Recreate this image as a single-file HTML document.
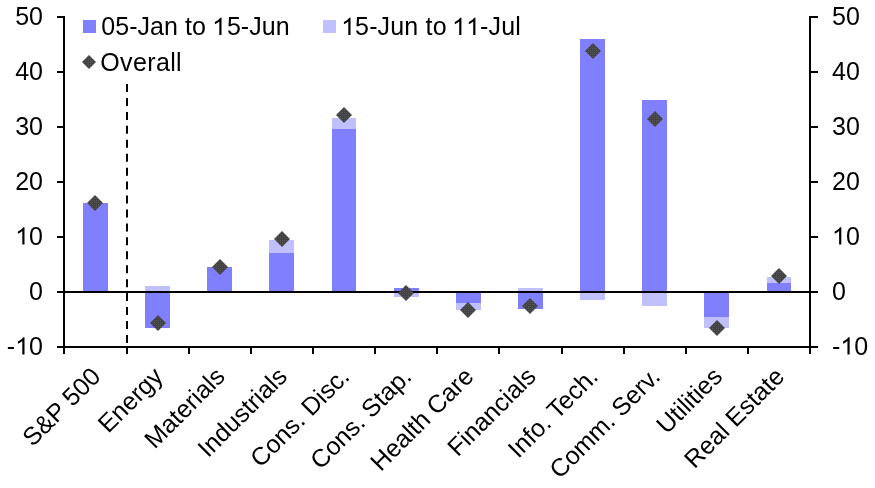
<!DOCTYPE html>
<html><head><meta charset="utf-8"><style>
html,body{margin:0;padding:0;background:#fff;width:875px;height:488px;overflow:hidden}
svg{display:block;will-change:transform}
text .one{fill:none}
text{font-family:"Liberation Sans",sans-serif;font-size:25px;fill:#000}
</style></head><body>
<svg width="875" height="488" viewBox="0 0 875 488">
<defs><pattern id="dp" width="2" height="2" patternUnits="userSpaceOnUse"><rect width="2" height="2" fill="#424242"/><rect width="1" height="1" fill="#575757"/></pattern></defs>
<rect x="83" y="203" width="25" height="89" fill="#8080FF"/>
<rect x="145" y="286" width="25" height="6" fill="#C0C0FF"/>
<rect x="145" y="292" width="25" height="36" fill="#8080FF"/>
<rect x="207" y="267" width="25" height="25" fill="#8080FF"/>
<rect x="269" y="240" width="25" height="13" fill="#C0C0FF"/>
<rect x="269" y="253" width="25" height="39" fill="#8080FF"/>
<rect x="332" y="118" width="24" height="11" fill="#C0C0FF"/>
<rect x="332" y="129" width="24" height="163" fill="#8080FF"/>
<rect x="394" y="288" width="25" height="4" fill="#8080FF"/>
<rect x="394" y="292" width="25" height="5" fill="#C0C0FF"/>
<rect x="456" y="292" width="25" height="11" fill="#8080FF"/>
<rect x="456" y="303" width="25" height="7" fill="#C0C0FF"/>
<rect x="518" y="288" width="25" height="4" fill="#C0C0FF"/>
<rect x="518" y="292" width="25" height="17" fill="#8080FF"/>
<rect x="580" y="39" width="25" height="253" fill="#8080FF"/>
<rect x="580" y="292" width="25" height="8" fill="#C0C0FF"/>
<rect x="642" y="100" width="25" height="192" fill="#8080FF"/>
<rect x="642" y="292" width="25" height="14" fill="#C0C0FF"/>
<rect x="704" y="292" width="25" height="25" fill="#8080FF"/>
<rect x="704" y="317" width="25" height="11" fill="#C0C0FF"/>
<rect x="767" y="277" width="24" height="6" fill="#C0C0FF"/>
<rect x="767" y="283" width="24" height="9" fill="#8080FF"/>
<line x1="127" y1="84" x2="127" y2="346" stroke="#000" stroke-width="2" stroke-dasharray="8 5.94"/>
<path d="M64 16V354M810 16V354" stroke="#000" stroke-width="2" fill="none"/>
<path d="M57 17.0H64M810 17.0H818M57 72.0H64M810 72.0H818M57 127.0H64M810 127.0H818M57 182.0H64M810 182.0H818M57 237.0H64M810 237.0H818M57 292.0H64M810 292.0H818M57 347.0H64M810 347.0H818" stroke="#000" stroke-width="2" fill="none"/>
<path d="M57 292H818M57 347H818" stroke="#000" stroke-width="2" fill="none"/>
<path d="M64 347V354M127 347V354M189 347V354M251 347V354M313 347V354M375 347V354M437 347V354M499 347V354M562 347V354M624 347V354M686 347V354M748 347V354M810 347V354" stroke="#000" stroke-width="2" fill="none"/>
<path d="M95 195L103 203L95 211L87 203Z" fill="url(#dp)"/>
<path d="M158 315L166 323L158 331L150 323Z" fill="url(#dp)"/>
<path d="M220 259L228 267L220 275L212 267Z" fill="url(#dp)"/>
<path d="M282 231L290 239L282 247L274 239Z" fill="url(#dp)"/>
<path d="M344 107L352 115L344 123L336 115Z" fill="url(#dp)"/>
<path d="M406 285L414 293L406 301L398 293Z" fill="url(#dp)"/>
<path d="M468 302L476 310L468 318L460 310Z" fill="url(#dp)"/>
<path d="M530 298L538 306L530 314L522 306Z" fill="url(#dp)"/>
<path d="M593 43L601 51L593 59L585 51Z" fill="url(#dp)"/>
<path d="M655 111L663 119L655 127L647 119Z" fill="url(#dp)"/>
<path d="M717 320L725 328L717 336L709 328Z" fill="url(#dp)"/>
<path d="M779 268L787 276L779 284L771 276Z" fill="url(#dp)"/>
<text x="43" y="24.5" text-anchor="end">50</text>
<text x="832" y="24.5">50</text>
<text x="43" y="79.5" text-anchor="end">40</text>
<text x="832" y="79.5">40</text>
<text x="43" y="134.5" text-anchor="end">30</text>
<text x="832" y="134.5">30</text>
<text x="43" y="189.5" text-anchor="end">20</text>
<text x="832" y="189.5">20</text>
<text x="43" y="244.5" text-anchor="end"><tspan class="one">1</tspan>0</text>
<text x="832" y="244.5"><tspan class="one">1</tspan>0</text>
<text x="43" y="299.5" text-anchor="end">0</text>
<text x="832" y="299.5">0</text>
<text x="43" y="354.5" text-anchor="end">-<tspan class="one">1</tspan>0</text>
<text x="832" y="354.5">-<tspan class="one">1</tspan>0</text>
<text x="102.1" y="378" text-anchor="end" transform="rotate(-45 102.1 378)">S&amp;P 500</text>
<text x="164.3" y="378" text-anchor="end" transform="rotate(-45 164.3 378)">Energy</text>
<text x="226.4" y="378" text-anchor="end" transform="rotate(-45 226.4 378)">Materials</text>
<text x="288.6" y="378" text-anchor="end" transform="rotate(-45 288.6 378)">Industrials</text>
<text x="350.8" y="378" text-anchor="end" transform="rotate(-45 350.8 378)">Cons. Disc.</text>
<text x="412.9" y="378" text-anchor="end" transform="rotate(-45 412.9 378)">Cons. Stap.</text>
<text x="475.1" y="378" text-anchor="end" transform="rotate(-45 475.1 378)">Health Care</text>
<text x="537.3" y="378" text-anchor="end" transform="rotate(-45 537.3 378)">Financials</text>
<text x="599.4" y="378" text-anchor="end" transform="rotate(-45 599.4 378)">Info. Tech.</text>
<text x="661.6" y="378" text-anchor="end" transform="rotate(-45 661.6 378)">Comm. Serv.</text>
<text x="723.8" y="378" text-anchor="end" transform="rotate(-45 723.8 378)">Utilities</text>
<text x="785.9" y="378" text-anchor="end" transform="rotate(-45 785.9 378)">Real Estate</text>
<rect x="83" y="20" width="13" height="13" fill="#8080FF"/>
<text x="101.3" y="35" textLength="188.3">05-Jan to <tspan class="one">1</tspan>5-Jun</text>
<rect x="323" y="20" width="13" height="13" fill="#C0C0FF"/>
<text x="341" y="35" textLength="179.9"><tspan class="one">1</tspan>5-Jun to <tspan class="one">1</tspan><tspan class="one">1</tspan>-Jul</text>
<path d="M89 55L96 62L89 69L82 62Z" fill="url(#dp)"/>
<text x="100.3" y="71" textLength="81.3">Overall</text>
<path transform="translate(15.1875 244.5) scale(0.012207 -0.011685)" d="M763 0H583V1147Q518 1085 412 1023Q307 961 223 930V1104Q374 1175 487 1276Q600 1377 647 1472H763Z"/>
<path transform="translate(832 244.5) scale(0.012207 -0.011685)" d="M763 0H583V1147Q518 1085 412 1023Q307 961 223 930V1104Q374 1175 487 1276Q600 1377 647 1472H763Z"/>
<path transform="translate(15.1875 354.5) scale(0.012207 -0.011685)" d="M763 0H583V1147Q518 1085 412 1023Q307 961 223 930V1104Q374 1175 487 1276Q600 1377 647 1472H763Z"/>
<path transform="translate(840.33 354.5) scale(0.012207 -0.011685)" d="M763 0H583V1147Q518 1085 412 1023Q307 961 223 930V1104Q374 1175 487 1276Q600 1377 647 1472H763Z"/>
<path transform="translate(212.2 35) scale(0.012207 -0.011685)" d="M763 0H583V1147Q518 1085 412 1023Q307 961 223 930V1104Q374 1175 487 1276Q600 1377 647 1472H763Z"/>
<path transform="translate(341.2 35) scale(0.012207 -0.011685)" d="M763 0H583V1147Q518 1085 412 1023Q307 961 223 930V1104Q374 1175 487 1276Q600 1377 647 1472H763Z"/>
<path transform="translate(452.1 35) scale(0.012207 -0.011685)" d="M763 0H583V1147Q518 1085 412 1023Q307 961 223 930V1104Q374 1175 487 1276Q600 1377 647 1472H763Z"/>
<path transform="translate(466.1 35) scale(0.012207 -0.011685)" d="M763 0H583V1147Q518 1085 412 1023Q307 961 223 930V1104Q374 1175 487 1276Q600 1377 647 1472H763Z"/>
</svg>
</body></html>
